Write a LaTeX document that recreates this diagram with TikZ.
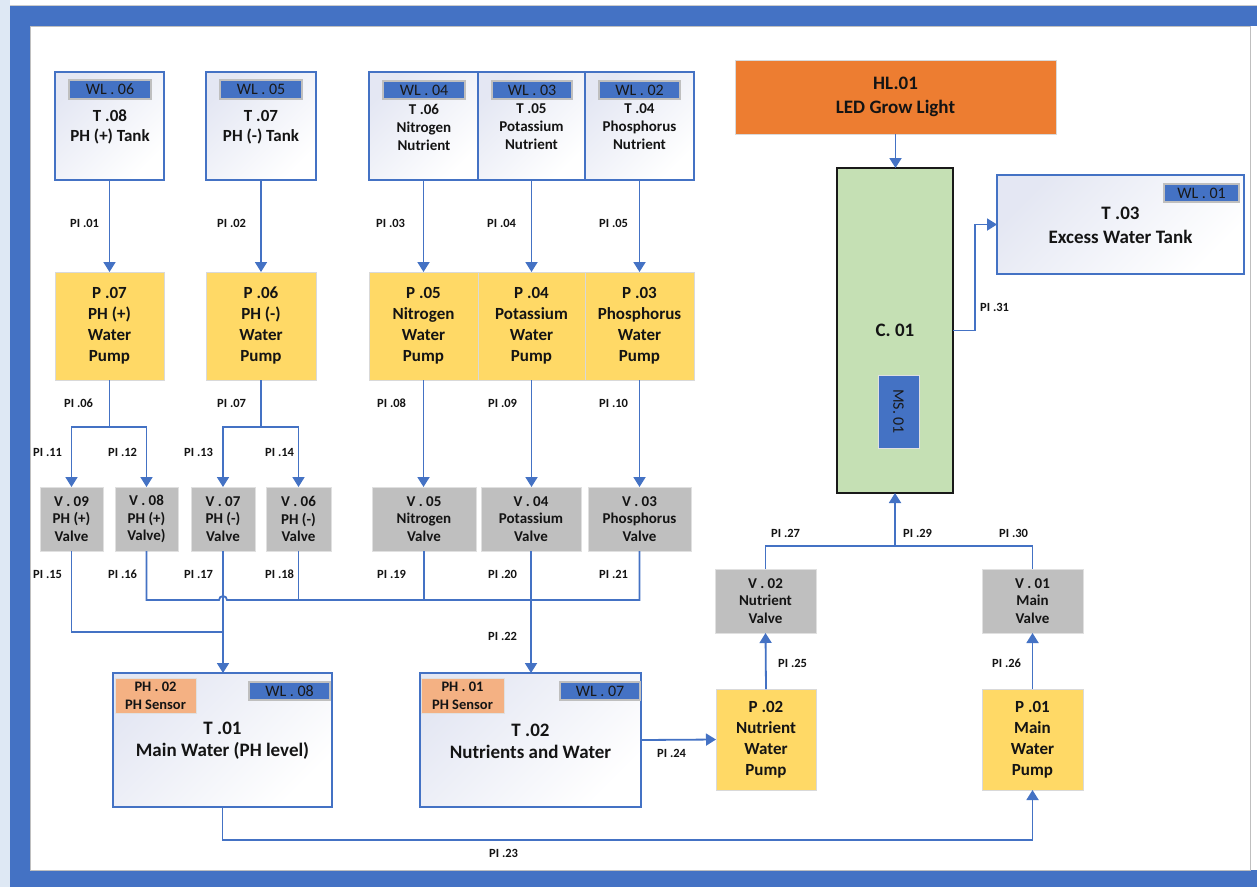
\documentclass[tikz,border=0pt]{standalone}
\usepackage{fontspec}
\setmainfont{Carlito}
\usetikzlibrary{arrows.meta,calc}
\definecolor{wlblue}{HTML}{4472C4}
\definecolor{pipeblue}{HTML}{4472C4}
\definecolor{pumpy}{HTML}{FFD966}
\definecolor{valveg}{HTML}{BFBFBF}
\definecolor{sensoro}{HTML}{F4B183}
\definecolor{lightor}{HTML}{ED7D31}
\definecolor{cgreen}{HTML}{C5E0B4}
\definecolor{tankgrad}{HTML}{E4E7F3}
\definecolor{strip}{HTML}{DEE8F4}
\definecolor{txt}{HTML}{141414}
\newcommand\fsz[2]{\fontsize{#1}{#2}\selectfont}
\begin{document}
\begin{tikzpicture}[x=1pt,y=-1pt,
  box/.style={rectangle, inner sep=0pt, outer sep=0pt},
  tank/.style={box, draw=wlblue, line width=1.4pt, top color=white, bottom color=tankgrad, shading angle=225},
  pump/.style={box, fill=pumpy, draw=black!15, line width=1pt, align=center, text=txt, font=\bfseries\fsz{17}{21}},
  valve/.style={box, fill=valveg, draw=black!12, line width=1pt, align=center, text=txt, font=\bfseries\fsz{15}{17.5}},
  badge/.style={box, fill=wlblue, draw=black!25, line width=1.2pt, text=black!90, font=\fsz{16}{16}},
  sensor/.style={box, fill=sensoro, draw=black!12, line width=1pt, align=center, text=txt, font=\bfseries\fsz{14.5}{18}},
  ttl/.style={inner sep=0pt, align=center, text=txt, font=\bfseries\fsz{17}{20}},
  ntl/.style={inner sep=0pt, align=center, text=txt, font=\bfseries\fsz{15}{18}},
  big/.style={inner sep=0pt, align=center, text=txt, font=\bfseries\fsz{19}{22}},
  pil/.style={inner sep=0pt, anchor=west, text=txt, font=\bfseries\fsz{12.5}{12.5}},
  pipe/.style={draw=pipeblue, line width=1.8pt},
  flow/.style={pipe, -{Triangle[width=12pt,length=10pt]}}
]
\useasboundingbox (0,0) rectangle (1257,887);
% frame
\fill[white] (0,0) rectangle (1257,887);
\fill[strip] (0,0) rectangle (10,887);
\fill[wlblue] (10,6) rectangle (1257,26);
\fill[wlblue] (10,26) rectangle (30,870);
\fill[wlblue] (10,870) rectangle (1257,887);
\draw[black!25, line width=0.8pt] (30,26) -- (1250,26) -- (1250,870) -- (30,870) -- cycle;
\draw[black!20, line width=0.8pt] (10,5.5) -- (1257,5.5);

% top tanks
\node[tank, minimum width=109, minimum height=108] (t08) at (109.5,126) {};
\node[badge, minimum width=82, minimum height=19] (wl06) at (110,89.5) {WL . 06};
\node[ttl] (t08l) at (110,127) {T .08\\PH (+) Tank};
\node[tank, minimum width=110, minimum height=108] (t07) at (261,126) {};
\node[badge, minimum width=82, minimum height=19] (wl05) at (261,89.5) {WL . 05};
\node[ttl] (t07l) at (261,127) {T .07\\PH (-) Tank};
\node[tank, minimum width=109, minimum height=108] (t06) at (423.5,126) {};
\node[tank, minimum width=107, minimum height=108] (t05) at (531.5,126) {};
\node[tank, minimum width=109, minimum height=108] (t04) at (639.5,126) {};
\node[badge, minimum width=82, minimum height=18] (wl04) at (424,90) {WL . 04};
\node[badge, minimum width=80, minimum height=18] (wl03) at (532,90) {WL . 03};
\node[badge, minimum width=81, minimum height=18] (wl02) at (639.5,90) {WL . 02};
\node[ntl] (t06l) at (424,127) {T .06\\Nitrogen\\Nutrient};
\node[ntl] (t05l) at (531.5,127) {T .05\\Potassium\\Nutrient};
\node[ntl] (t04l) at (639.5,127) {T .04\\Phosphorus\\Nutrient};

% pumps
\node[pump, minimum width=109, minimum height=108] (p07) at (109.5,326) {P .07\\PH (+)\\Water\\Pump};
\node[pump, minimum width=110, minimum height=108] (p06) at (261,326) {P .06\\PH (-)\\Water\\Pump};
\node[pump, minimum width=109, minimum height=108] (p05) at (423.5,326) {P .05\\Nitrogen\\Water\\Pump};
\node[pump, minimum width=107, minimum height=108] (p04) at (531.5,326) {P .04\\Potassium\\Water\\Pump};
\node[pump, minimum width=109, minimum height=108] (p03) at (639.5,326) {P .03\\Phosphorus\\Water\\Pump};

% valves
\node[valve, minimum width=63, minimum height=64] (v09) at (71.5,519) {V . 09\\PH (+)\\Valve};
\node[valve, minimum width=63, minimum height=64] (v08) at (146.5,519) {V . 08\\PH (+)\\Valve)};
\node[valve, minimum width=64, minimum height=64] (v07) at (223,519) {V . 07\\PH (-)\\Valve};
\node[valve, minimum width=65, minimum height=64] (v06) at (298.5,519) {V . 06\\PH (-)\\Valve};
\node[valve, minimum width=104, minimum height=64] (v05) at (424,519) {V . 05\\Nitrogen\\Valve};
\node[valve, minimum width=100, minimum height=64] (v04) at (531,519) {V . 04\\Potassium\\Valve};
\node[valve, minimum width=103, minimum height=64] (v03) at (639.5,519) {V . 03\\Phosphorus\\Valve};

% bottom tanks
\node[tank, minimum width=219, minimum height=134] (t01) at (222.5,740) {};
\node[sensor, minimum width=81, minimum height=35] (ph02) at (155.5,695.5) {PH . 02\\PH Sensor};
\node[badge, minimum width=81, minimum height=18] (wl08) at (289.5,691) {WL . 08};
\node[big] (t01l) at (222.5,741) {T .01\\Main Water (PH level)};
\node[tank, minimum width=221, minimum height=134] (t02) at (530.5,740) {};
\node[sensor, minimum width=83, minimum height=35] (ph01) at (462.5,695.5) {PH . 01\\PH Sensor};
\node[badge, minimum width=80, minimum height=18] (wl07) at (600,691) {WL . 07};
\node[big] (t02l) at (530.5,741) {T .02\\Nutrients and Water};

% right side
\node[box, fill=lightor, draw=black!15, line width=1pt, minimum width=321, minimum height=74, align=center, text=txt, font=\bfseries\fsz{19}{24}] (hl01) at (895.5,97) {HL.01\\LED Grow Light};
\node[box, fill=cgreen, draw=black!90, line width=1.6pt, minimum width=116, minimum height=325] (c01) at (895,330.5) {};
\node[big] (c01l) at (895,330) {C. 01};
\node[box, fill=wlblue, draw=black!12, line width=1pt, minimum width=41, minimum height=73] (ms01) at (898.5,411.5) {};
\node[inner sep=0pt, rotate=-90, text=black!90, font=\fsz{16}{16}] (ms01l) at (898.5,411.5) {MS. 01};
\node[tank, minimum width=247, minimum height=99] (t03) at (1120.5,224.5) {};
\node[badge, minimum width=75, minimum height=18] (wl01) at (1201.5,193) {WL . 01};
\node[inner sep=0pt, align=center, text=txt, font=\bfseries\fsz{19}{24}] (t03l) at (1120.5,225) {T .03\\Excess Water Tank};
\node[pump, minimum width=100, minimum height=101] (p02) at (766,739.5) {P .02\\Nutrient\\Water\\Pump};
\node[pump, minimum width=101, minimum height=101] (p01) at (1032.5,739.5) {P .01\\Main\\Water\\Pump};
\node[valve, minimum width=101, minimum height=64] (v02) at (765.5,601) {V . 02\\Nutrient\\Valve};
\node[valve, minimum width=101, minimum height=64] (v01) at (1032.5,601) {V . 01\\Main\\Valve};

% connectors: tanks to pumps
\draw[flow] (t08.south) -- (p07.north);
\draw[flow] (t07.south) -- (p06.north);
\draw[flow] (t06.south) -- (p05.north);
\draw[flow] (t05.south) -- (p04.north);
\draw[flow] (t04.south) -- (p03.north);
% pumps to valves
\coordinate (j1) at (p07.south |- 0,427);
\coordinate (j2) at (p06.south |- 0,427);
\draw[pipe] (p07.south) -- (j1);
\draw[flow] (j1) -| (v09.north);
\draw[flow] (j1) -| (v08.north);
\draw[pipe] (p06.south) -- (j2);
\draw[flow] (j2) -| (v07.north);
\draw[flow] (j2) -| (v06.north);
\draw[flow] (p05.south) -- (p05.south |- v05.north);
\draw[flow] (p04.south) -- (p04.south |- v04.north);
\draw[flow] (p03.south) -- (p03.south |- v03.north);
% valves to bottom tanks
\coordinate (busA) at (0,600);
\coordinate (busB) at (0,632);
\draw[pipe] (v09.south) |- (v07.south |- busB);
\draw[flow] (v07.south) -- (v07.south |- t01.north);
\draw[pipe] (v08.south) |- ($(v07.south |- busA)+(-4,0)$) arc[start angle=180,end angle=0,radius=4pt] -- (v03.south |- busA) -- (v03.south);
\draw[pipe] (v06.south) -- (v06.south |- busA);
\draw[pipe] (v05.south) -- (v05.south |- busA);
\draw[flow] (v04.south) -- (v04.south |- t02.north);
% right side
\draw[flow] (t02.east) -- (p02.west);
\draw[flow] (p02.north) -- (v02.south);
\draw[flow] (p01.north) -- (v01.south);
\coordinate (busC) at (0,546);
\draw[pipe] (v02.north) |- (v01.north |- busC) -- (v01.north);
\draw[flow] (c01.south |- busC) -- (c01.south);
\draw[flow] (hl01.south) -- (hl01.south |- c01.north);
\draw[flow] (c01.east) -- ++(22,0) |- (t03.west);
\coordinate (busD) at (0,840);
\draw[flow] (t01.south) |- (p01.south |- busD) -- (p01.south);

% pipe labels
\node[pil] (pi01) at (70,223) {PI .01};
\node[pil] (pi02) at (217,223) {PI .02};
\node[pil] (pi03) at (376,223) {PI .03};
\node[pil] (pi04) at (487,223) {PI .04};
\node[pil] (pi05) at (599,223) {PI .05};
\node[pil] (pi06) at (64,403) {PI .06};
\node[pil] (pi07) at (217,403) {PI .07};
\node[pil] (pi08) at (377,403) {PI .08};
\node[pil] (pi09) at (488,403) {PI .09};
\node[pil] (pi10) at (599,403) {PI .10};
\node[pil] (pi11) at (33,452) {PI .11};
\node[pil] (pi12) at (108,452) {PI .12};
\node[pil] (pi13) at (184,452) {PI .13};
\node[pil] (pi14) at (265,452) {PI .14};
\node[pil] (pi15) at (33,574) {PI .15};
\node[pil] (pi16) at (108,574) {PI .16};
\node[pil] (pi17) at (184,574) {PI .17};
\node[pil] (pi18) at (265,574) {PI .18};
\node[pil] (pi19) at (377,574) {PI .19};
\node[pil] (pi20) at (488,574) {PI .20};
\node[pil] (pi21) at (599,574) {PI .21};
\node[pil] (pi22) at (488,636) {PI .22};
\node[pil] (pi23) at (489,853) {PI .23};
\node[pil] (pi24) at (657,753) {PI .24};
\node[pil] (pi25) at (778,663) {PI .25};
\node[pil] (pi26) at (992,663) {PI .26};
\node[pil] (pi27) at (771,533) {PI .27};
\node[pil] (pi29) at (903,533) {PI .29};
\node[pil] (pi30) at (999,533) {PI .30};
\node[pil] (pi31) at (980,307) {PI .31};
\end{tikzpicture}
\end{document}
